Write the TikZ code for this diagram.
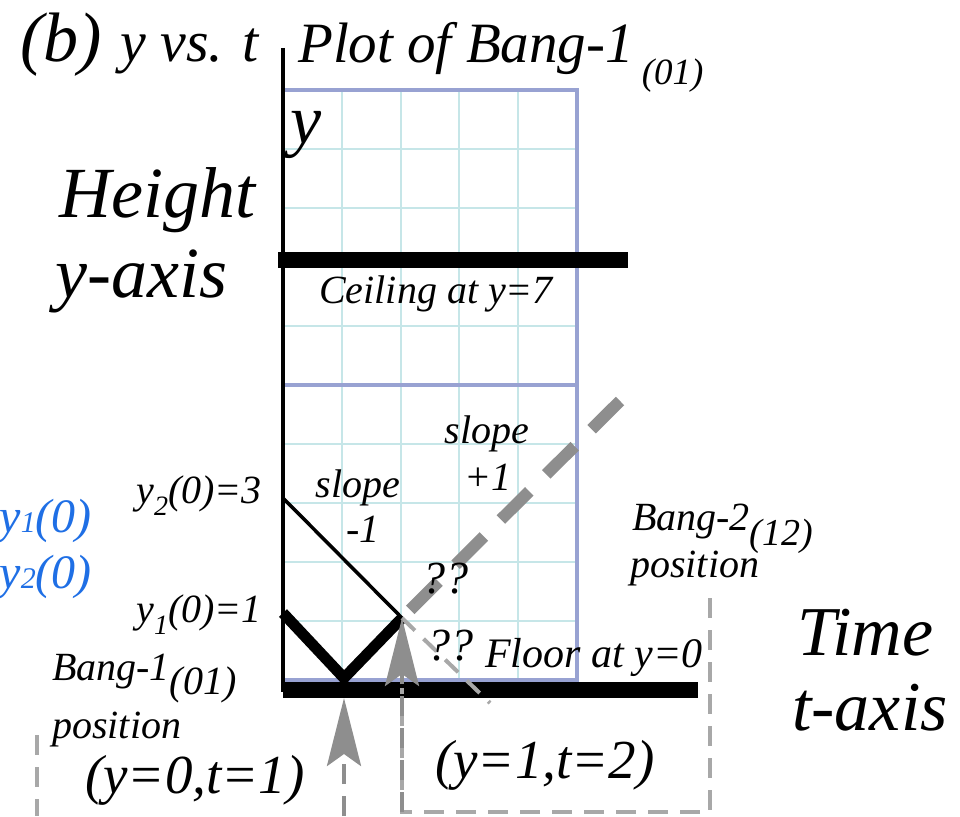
\documentclass[tikz,border=0pt]{standalone}
\usepackage{fontspec}
\setmainfont{Liberation Serif}
\usetikzlibrary{arrows.meta}
\definecolor{gridc}{HTML}{C6E6E8}
\definecolor{bordc}{HTML}{98A2D2}
\definecolor{grayc}{HTML}{8E8E8E}
\definecolor{lgrayc}{HTML}{A8A8A8}
\definecolor{bluelbl}{HTML}{1F6FE5}
\newcommand{\myfs}[1]{\fontsize{#1}{#1}\selectfont}
\begin{document}
\begin{tikzpicture}[x=1pt,y=-1pt,
  every node/.style={inner sep=0pt, font=\rmfamily\itshape},
  gridline/.style={draw=gridc, line width=2pt},
  border/.style={draw=bordc, line width=4pt},
  bar/.style={draw=black, line width=16pt},
  axisline/.style={draw=black, line width=4pt},
  bangpath/.style={draw=black, line width=11pt, line join=miter},
  thinpath/.style={draw=black, line width=3.5pt},
  bigdash/.style={draw=grayc, line width=12pt, dash pattern=on 40pt off 24pt},
  smalldash/.style={draw=lgrayc, line width=4pt, dash pattern=on 18pt off 12pt},
  posarrow/.style={draw=grayc, line width=4pt, dash pattern=on 20pt off 12pt,
     -{Stealth[length=68pt, width=34pt, inset=12pt, fill=grayc]}},
  boxdash/.style={draw=lgrayc, line width=4pt, dash pattern=on 20pt off 12pt},
  txt/.style={anchor=base west},
  txte/.style={anchor=base east},
  txtc/.style={anchor=base}
]
\useasboundingbox (0,0) rectangle (960,816);

% grid
\foreach \i in {1,...,4} \draw[gridline] ({283+\i*58.8},90) -- ({283+\i*58.8},680);
\foreach \j in {1,...,9} \draw[gridline] (283,{90+\j*59}) -- (577,{90+\j*59});
\draw[border] (283,90) rectangle (577,680);
\draw[border] (283,385) -- (577,385);

% coordinates
\coordinate (axtop) at (283,48);
\coordinate (axbot) at (283,692);
\coordinate (ceilL) at (278,260);
\coordinate (ceilR) at (628,260);
\coordinate (floorL) at (283,690);
\coordinate (floorR) at (698,690);
\coordinate (p1start) at (283,613);
\coordinate (bang1) at (344,678);
\coordinate (bang2) at (402,618);
\coordinate (p2start) at (283,498);
\coordinate (graytop) at (620,401);
\coordinate (grayend) at (490,703);
\coordinate (arr1tip) at (344,698);
\coordinate (arr1foot) at (344,816);
\coordinate (boxR) at (710,598);
\coordinate (boxBL) at (402,812);
\coordinate (leftT) at (37,735);
\coordinate (leftB) at (37,816);

% bars and axis
\draw[bar] (ceilL) -- (ceilR);
\draw[bar] (floorL) -- (floorR);
\draw[axisline] (axtop) -- (axbot);

% paths
\draw[thinpath] (p2start) -- (bang2);
\draw[bangpath] (p1start) -- (bang1) -- (bang2);
\draw[bigdash] (graytop) -- (bang2);
\draw[smalldash] (bang2) -- (grayend);

% arrows and dashed marks
\draw[posarrow] (arr1foot) -- (arr1tip);
\draw[boxdash] (boxR) |- (boxBL) -- ++(0,-124);
\draw[posarrow] (boxBL) -- (bang2);
\draw[boxdash] (leftT) -- (leftB);

% texts
\node[txt] (tb) at (20,62) {\myfs{70}(b)};
\node[txt] (tyvt) at (120,62) {\myfs{58}y vs. t};
\node[txt] (tplot) at (298,63) {\myfs{57}Plot of Bang-1\kern8pt\raisebox{-22pt}{\myfs{37}(01)}};
\node[txt] (ty) at (290,143) {\myfs{70}y};
\node[txt] (theight) at (59,217) {\myfs{72}Height};
\node[txt] (tyaxis) at (55,297) {\myfs{72}y-axis};
\node[txt] (tceil) at (319,303) {\myfs{40}Ceiling at y=7};
\node[txtc] (tslp1) at (487,443) {\myfs{40}slope};
\node[txtc] (tslp1b) at (488,490) {\myfs{40}+1};
\node[txtc] (tslm1) at (358,497) {\myfs{40}slope};
\node[txtc] (tslm1b) at (363,542) {\myfs{40}-1};
\node[txte] (ty2) at (262,503) {\myfs{40}y\raisebox{-12pt}{\myfs{28}2}(0)=3};
\node[txte] (ty1) at (262,622) {\myfs{40}y\raisebox{-12pt}{\myfs{28}1}(0)=1};
\node[txte, text=bluelbl] (by1) at (92,532) {\myfs{48}y{\myfs{30}1}(0)};
\node[txte, text=bluelbl] (by2) at (92,588) {\myfs{48}y{\myfs{30}2}(0)};
\node[txt] (q1) at (422,593) {\myfs{46}??};
\node[txt] (q2) at (427,660) {\myfs{46}??};
\node[txt] (tfloor) at (485,667) {\myfs{42}Floor at y=0};
\node[txt] (tb2) at (632,530) {\myfs{40}Bang-2\raisebox{-15pt}{\myfs{38}(12)}};
\node[txt] (tb2p) at (630,577) {\myfs{40}position};
\node[txt] (ttime) at (797,655) {\myfs{70}Time};
\node[txt] (ttaxis) at (792,730) {\myfs{70}t-axis};
\node[txt] (tb1) at (52,680) {\myfs{40}Bang-1\raisebox{-14pt}{\myfs{40}(01)}};
\node[txt] (tb1p) at (52,738) {\myfs{40}position};
\node[txt] (tc1) at (85,793) {\myfs{55}(y=0,t=1)};
\node[txt] (tc2) at (435,778) {\myfs{55}(y=1,t=2)};
\end{tikzpicture}
\end{document}
